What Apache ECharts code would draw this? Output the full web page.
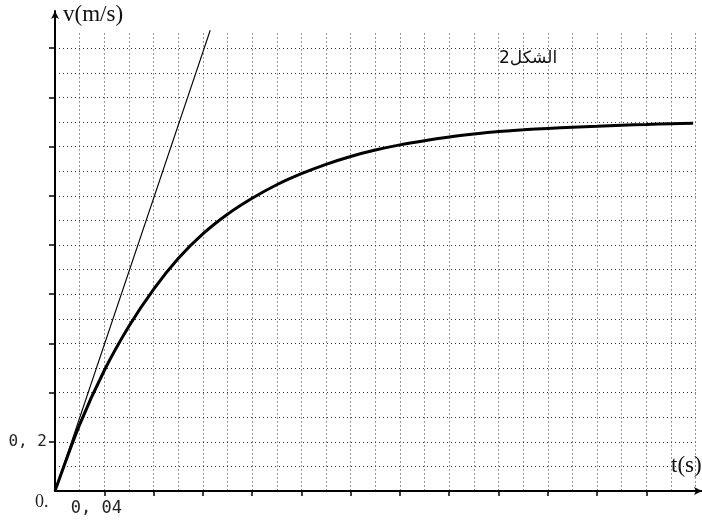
<!DOCTYPE html>
<html>
<head>
<meta charset="utf-8">
<script src="https://cdn.jsdelivr.net/npm/echarts@6/dist/echarts.min.js"></script>
<style>html,body{margin:0;padding:0;background:#fff}#c{width:702px;height:526px}</style>
</head>
<body>
<div id="c"></div>
<script>
// ---- data ----
const tValues = [0, 0.02, 0.04, 0.06, 0.08, 0.10, 0.12, 0.14, 0.16, 0.18, 0.20, 0.22, 0.24, 0.26, 0.28, 0.30, 0.32, 0.34, 0.36, 0.38, 0.40, 0.42, 0.44, 0.46, 0.48, 0.50, 0.518];
const vValues = [0, 0.27, 0.49, 0.67, 0.82, 0.945, 1.045, 1.125, 1.19, 1.245, 1.29, 1.328, 1.36, 1.386, 1.407, 1.424, 1.439, 1.451, 1.461, 1.468, 1.474, 1.479, 1.483, 1.487, 1.49, 1.493, 1.495];
const tangentT = [0, 0.126];
const tangentV = [0, 1.873];
const xTickValues = [0.04, 0.08, 0.12, 0.16, 0.20, 0.24, 0.28, 0.32, 0.36, 0.40, 0.44, 0.48];
const yTickValues = [0.2, 0.4, 0.6, 0.8, 1.0, 1.2, 1.4, 1.6, 1.8];
const xLabelValues = [0.04];
const xLabelTexts = ['0, 04'];
const yLabelValues = [0.2];
const yLabelTexts = ['0, 2'];

// ---- layout ----
const PX_S = 1232, PX_V = 246, X0 = 55, Y0 = 491;
const mainW = 647, mainH = 480;
const gridXMax = 0.52, gridVYMax = 1.86, gridHYMax = 1.8;

function pick(vals, texts) {
  return function (val) {
    const i = vals.findIndex(v => Math.abs(v - val) < 1e-9);
    return i >= 0 ? texts[i] : '';
  };
}

const chart = echarts.init(document.getElementById('c'), null, {renderer: 'canvas'});
const dotted = {color: '#333', width: 1, type: [1, 3]};
const hidden = {axisLine: {show: false}, axisTick: {show: false}, axisLabel: {show: false}};

const option = {
  animation: false,
  backgroundColor: '#ffffff',
  grid: [
    {left: X0, top: Y0 - mainH, width: mainW, height: mainH, containLabel: false, outerBoundsMode: 'none'},
    {left: X0, top: Y0 - gridVYMax * PX_V, width: gridXMax * PX_S, height: gridVYMax * PX_V, containLabel: false, outerBoundsMode: 'none'},
    {left: X0, top: Y0 - gridHYMax * PX_V, width: gridXMax * PX_S, height: gridHYMax * PX_V, containLabel: false, outerBoundsMode: 'none'}
  ],
  xAxis: [
    {type: 'value', gridIndex: 0, min: 0, max: mainW / PX_S,
     axisLine: {show: true, lineStyle: {color: '#000', width: 2}, symbol: ['none', 'arrow'], symbolSize: [6, 8]},
     axisTick: {show: true, inside: false, length: 5, lineStyle: {color: '#000', width: 1.5}, customValues: xTickValues},
     axisLabel: {show: true, customValues: xLabelValues, formatter: pick(xLabelValues, xLabelTexts), margin: 9,
                 fontFamily: 'DejaVu Sans Mono', fontSize: 17, color: '#222', padding: [0, 16, 0, 0]},
     splitLine: {show: false}},
    {type: 'value', gridIndex: 0, min: 0, max: mainW / PX_S,
     axisLine: {show: false},
     axisTick: {show: true, inside: true, length: 5, lineStyle: {color: '#000', width: 1.5}, customValues: xTickValues},
     axisLabel: {show: false}, splitLine: {show: false}},
    Object.assign({type: 'value', gridIndex: 1, min: 0, max: gridXMax, interval: 0.02,
     splitLine: {show: true, lineStyle: dotted}}, hidden),
    Object.assign({type: 'value', gridIndex: 2, min: 0, max: gridXMax,
     splitLine: {show: false}}, hidden)
  ],
  yAxis: [
    {type: 'value', gridIndex: 0, min: 0, max: mainH / PX_V,
     axisLine: {show: true, lineStyle: {color: '#000', width: 2}, symbol: ['none', 'arrow'], symbolSize: [6, 8]},
     axisTick: {show: true, inside: false, length: 4, lineStyle: {color: '#000', width: 1.5}, customValues: yTickValues},
     axisLabel: {show: true, customValues: yLabelValues, formatter: pick(yLabelValues, yLabelTexts), margin: 8,
                 fontFamily: 'DejaVu Sans Mono', fontSize: 16, color: '#222'},
     splitLine: {show: false}},
    {type: 'value', gridIndex: 0, min: 0, max: mainH / PX_V,
     axisLine: {show: false},
     axisTick: {show: true, inside: true, length: 6, lineStyle: {color: '#000', width: 1.5}, customValues: yTickValues},
     axisLabel: {show: false}, splitLine: {show: false}},
    Object.assign({type: 'value', gridIndex: 1, min: 0, max: gridVYMax,
     splitLine: {show: false}}, hidden),
    Object.assign({type: 'value', gridIndex: 2, min: 0, max: gridHYMax, interval: 0.1,
     splitLine: {show: true, lineStyle: dotted}}, hidden)
  ],
  series: [
    {type: 'line', xAxisIndex: 0, yAxisIndex: 0, data: tValues.map((t, i) => [t, vValues[i]]),
     smooth: 0.3, showSymbol: false, symbol: 'none', lineStyle: {color: '#000', width: 3}, z: 5},
    {type: 'line', xAxisIndex: 0, yAxisIndex: 0, data: tangentT.map((t, i) => [t, tangentV[i]]),
     showSymbol: false, symbol: 'none', lineStyle: {color: '#000', width: 1.1}, z: 4}
  ],
  graphic: [
    {type: 'text', left: 63, top: 3, style: {text: 'v(m/s)', font: '23px "Liberation Serif"', fill: '#111'}},
    {type: 'text', left: 671, top: 454, style: {text: 't(s)', font: '23px "Liberation Serif"', fill: '#111'}},
    {type: 'text', left: 35, top: 493, style: {text: '0.', font: '18px "Liberation Serif"', fill: '#222'}},
    {type: 'text', left: 499, top: 50, style: {text: 'الشكل2', font: '17px "DejaVu Sans"', fill: '#111'}}
  ]
};
chart.setOption(option);
</script>
</body>
</html>
